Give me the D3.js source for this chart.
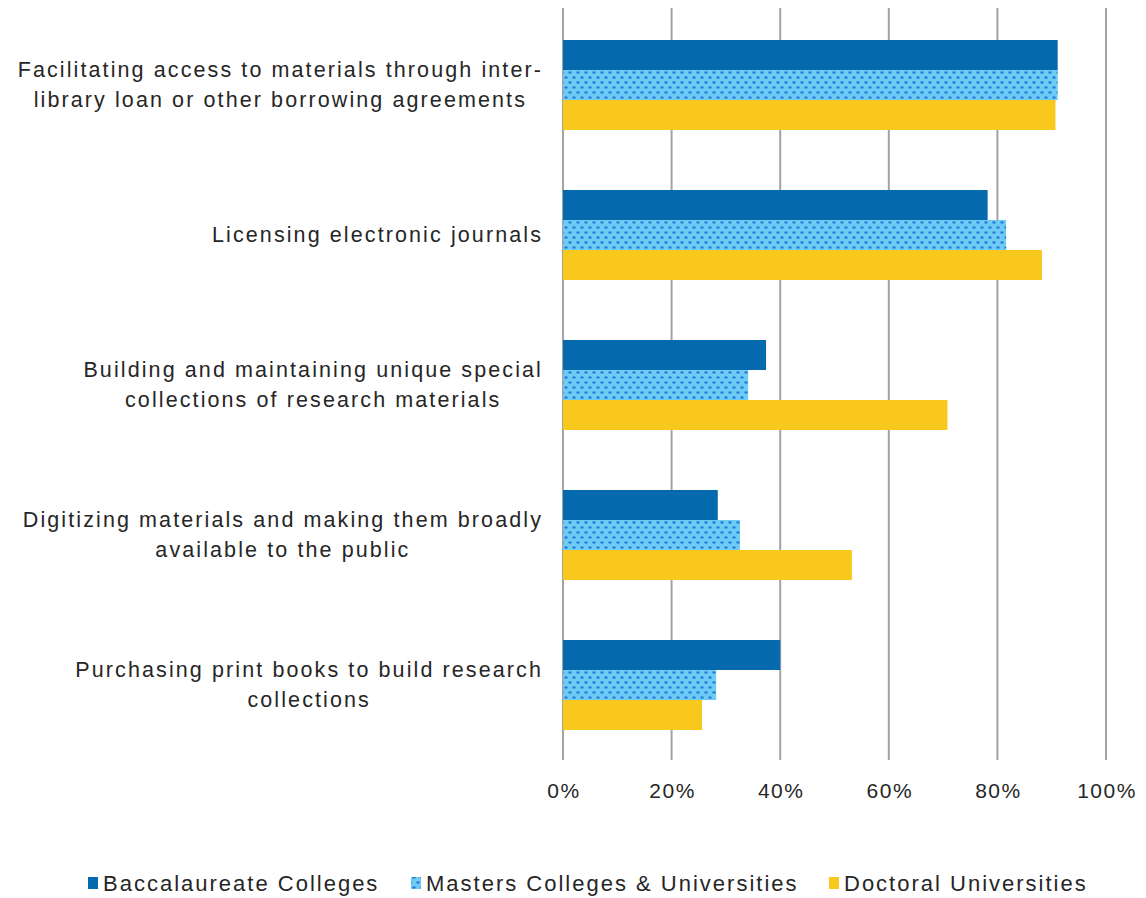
<!DOCTYPE html>
<html><head><meta charset="utf-8">
<script src="https://cdn.jsdelivr.net/npm/d3@7"></script>
<style>body{margin:0;background:#fff}svg{display:block}text{font-family:"Liberation Sans",Arial,sans-serif;fill:#262626}</style>
</head><body>
<svg id="c" width="1146" height="898"></svg>
<script>
const categories = [
  ["Facilitating access to materials through inter-","library loan or other borrowing agreements"],
  ["Licensing electronic journals"],
  ["Building and maintaining unique special","collections of research materials"],
  ["Digitizing materials and making them broadly","available to the public"],
  ["Purchasing print books to build research","collections"]
];
const seriesNames = ["Baccalaureate Colleges","Masters Colleges & Universities","Doctoral Universities"];
const baccalaureate = [0.911, 0.782, 0.374, 0.285, 0.400];
const masters       = [0.911, 0.816, 0.341, 0.326, 0.282];
const doctoral      = [0.907, 0.882, 0.708, 0.532, 0.256];
const tickValues = [0, 0.2, 0.4, 0.6, 0.8, 1.0];

const series = [baccalaureate, masters, doctoral];
const svg = d3.select("#c");
const defs = svg.append("defs");
const pat = defs.append("pattern").attr("id","dots").attr("patternUnits","userSpaceOnUse")
  .attr("width",8).attr("height",10);
pat.append("rect").attr("width",8).attr("height",10).attr("fill","#6ecbf3");
pat.append("rect").attr("x",0.5).attr("y",1.5).attr("width",3).attr("height",2).attr("fill","#1f74dc");
pat.append("rect").attr("x",4.5).attr("y",6.5).attr("width",3).attr("height",2).attr("fill","#1f74dc");
const fills = ["#0569ad","url(#dots)","#f8c91c"];

const x = d3.scaleLinear().domain([0,1]).range([563,1106]);
const y = d3.scaleBand().domain(d3.range(categories.length)).range([10,760]).paddingInner(0.4).paddingOuter(0.2);
const y1 = d3.scaleBand().domain(d3.range(3)).range([0,y.bandwidth()]);

// gridlines
svg.append("g").selectAll("line").data(tickValues).join("line")
  .attr("x1",d=>x(d)).attr("x2",d=>x(d)).attr("y1",8).attr("y2",760)
  .attr("stroke","#a3a3a3").attr("stroke-width",2);

// bars
const g = svg.append("g");
categories.forEach((c,i)=>{
  series.forEach((s,j)=>{
    g.append("rect").attr("x",x(0)).attr("y",y(i)+y1(j)).attr("width",x(s[i])-x(0)).attr("height",y1.bandwidth())
      .attr("fill",fills[j]);
  });
});

// axis labels
svg.append("g").selectAll("text").data(tickValues).join("text")
  .attr("x",d=>x(d)+1).attr("y",798).attr("text-anchor","middle").attr("font-size",21)
  .attr("letter-spacing",1.5)
  .text(d=>d3.format(".0%")(d));

// category labels
categories.forEach((lines,i)=>{
  const cy = y(i)+y.bandwidth()/2;
  const t = svg.append("text").attr("font-size",21.5).attr("letter-spacing",2.1).attr("text-anchor","middle");
  const n = lines.length;
  const tsp = lines.map((l,k)=>t.append("tspan").attr("y", cy + (k-(n-1)/2)*30 + 7).text(l));
  const maxW = d3.max(tsp, s=>s.node().getComputedTextLength());
  const cx = 543 - maxW/2;
  tsp.forEach(s=>s.attr("x",cx));
});

// legend
const leg = svg.append("g");
const legX = [88, 411, 829];
seriesNames.forEach((n,j)=>{
  leg.append("rect").attr("x",legX[j]).attr("y",877).attr("width",10).attr("height",12).attr("fill",fills[j]);
  leg.append("text").attr("x",legX[j]+15).attr("y",891).attr("font-size",22).attr("letter-spacing",2.0).text(n);
});
</script>
</body></html>
